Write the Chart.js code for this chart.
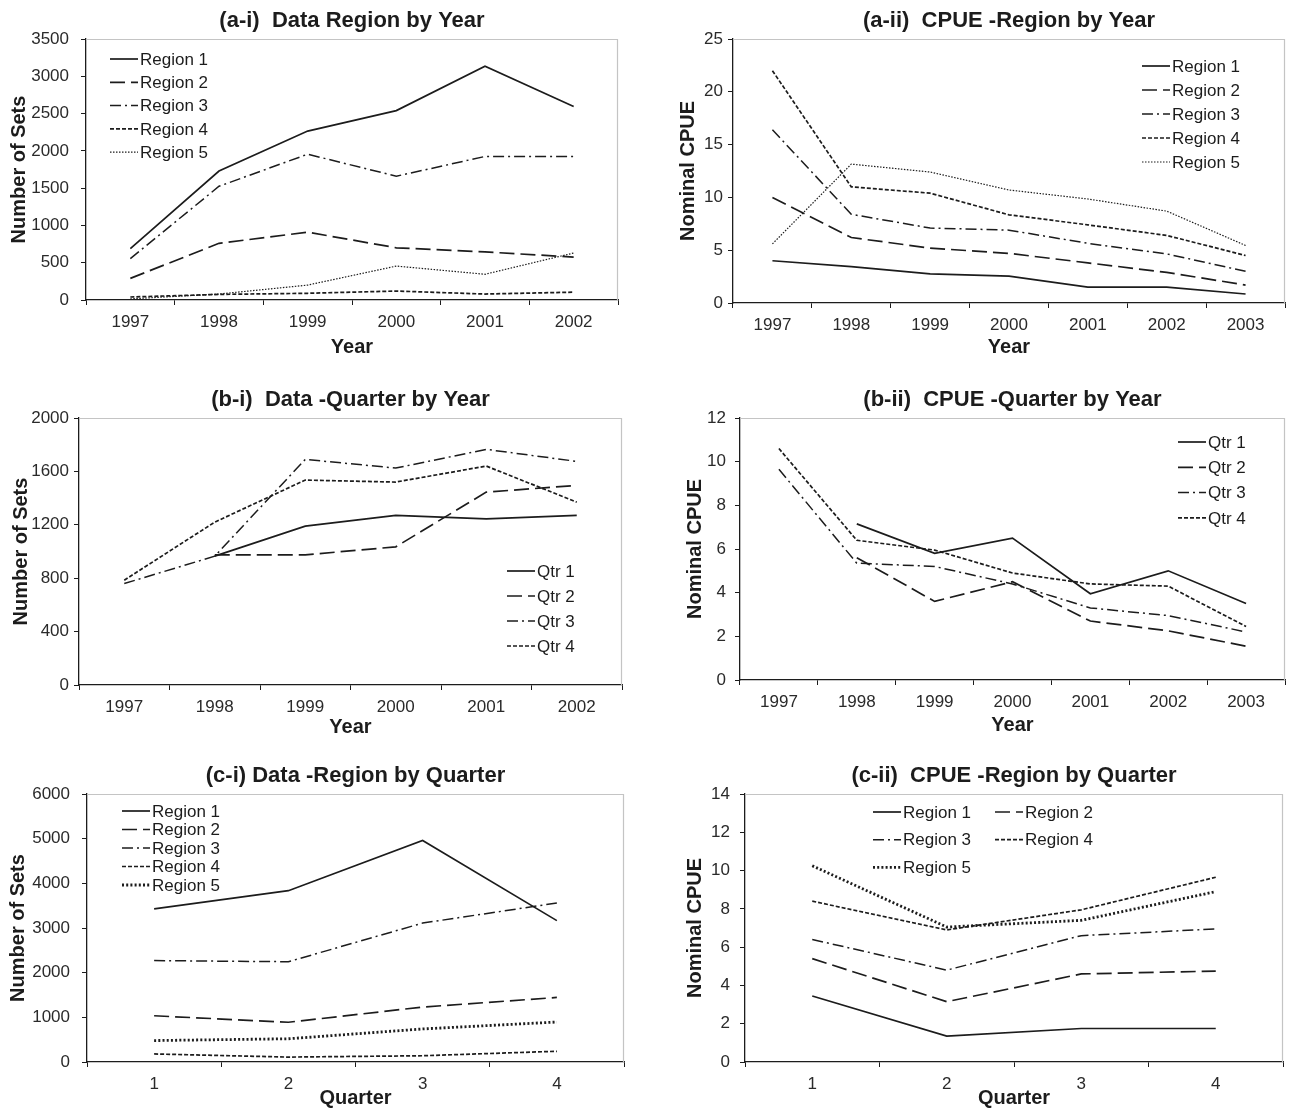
<!DOCTYPE html>
<html>
<head>
<meta charset="utf-8">
<script src="https://cdn.jsdelivr.net/npm/chart.js@4.4.0/dist/chart.umd.min.js"></script>
<style>
  body { margin: 0; background: #fff; width: 1289px; height: 1110px; position: relative; overflow: hidden; }
  canvas { position: absolute; }
</style>
</head>
<body>
<canvas id="ai" width="630" height="365" style="left:3px;top:0px"></canvas>
<canvas id="aii" width="617" height="365" style="left:672px;top:0px"></canvas>
<canvas id="bi" width="630" height="365" style="left:5px;top:380px"></canvas>
<canvas id="bii" width="610" height="365" style="left:679px;top:380px"></canvas>
<canvas id="ci" width="630" height="360" style="left:2px;top:750px"></canvas>
<canvas id="cii" width="610" height="360" style="left:679px;top:750px"></canvas>
<script>
// categories
const yearsShort = ['1997', '1998', '1999', '2000', '2001', '2002'];
const yearsLong = ['1997', '1998', '1999', '2000', '2001', '2002', '2003'];
const quarters = ['1', '2', '3', '4'];
const regionNames = ['Region 1', 'Region 2', 'Region 3', 'Region 4', 'Region 5'];
const qtrNames = ['Qtr 1', 'Qtr 2', 'Qtr 3', 'Qtr 4'];

// (a-i) number of sets, region by year
const setsR1 = [690, 1730, 2265, 2540, 3135, 2595];
const setsR2 = [290, 760, 910, 700, 645, 575];
const setsR3 = [555, 1525, 1955, 1660, 1925, 1925];
const setsR4 = [40, 75, 90, 120, 80, 105];
const setsR5 = [15, 80, 200, 455, 345, 630];

// (a-ii) nominal CPUE, region by year
const cpueR1 = [4.0, 3.45, 2.75, 2.55, 1.5, 1.5, 0.85];
const cpueR2 = [10.0, 6.2, 5.2, 4.7, 3.8, 2.9, 1.7];
const cpueR3 = [16.4, 8.4, 7.1, 6.9, 5.65, 4.65, 3.0];
const cpueR4 = [22.0, 11.0, 10.4, 8.35, 7.4, 6.4, 4.5];
const cpueR5 = [5.6, 13.15, 12.4, 10.7, 9.85, 8.7, 5.45];

// (b-i) number of sets, quarter by year
const setsQ1 = [null, 965, 1190, 1270, 1245, 1270];
const setsQ2 = [null, 975, 975, 1035, 1445, 1495];
const setsQ3 = [760, 965, 1690, 1625, 1765, 1675];
const setsQ4 = [785, 1220, 1535, 1520, 1640, 1370];

// (b-ii) nominal CPUE, quarter by year
const cpueQ1 = [null, 7.15, 5.8, 6.5, 3.95, 5.0, 3.5];
const cpueQ2 = [null, 5.6, 3.6, 4.5, 2.7, 2.25, 1.55];
const cpueQ3 = [9.65, 5.35, 5.2, 4.4, 3.3, 2.95, 2.2];
const cpueQ4 = [10.6, 6.4, 5.95, 4.9, 4.4, 4.3, 2.45];

// (c-i) number of sets, region by quarter
const qSetsR1 = [3430, 3835, 4960, 3165];
const qSetsR2 = [1035, 890, 1230, 1445];
const qSetsR3 = [2270, 2245, 3110, 3560];
const qSetsR4 = [180, 110, 140, 240];
const qSetsR5 = [480, 520, 740, 895];

// (c-ii) nominal CPUE, region by quarter
const qCpueR1 = [3.45, 1.35, 1.75, 1.75];
const qCpueR2 = [5.4, 3.15, 4.6, 4.75];
const qCpueR3 = [6.4, 4.8, 6.6, 6.95];
const qCpueR4 = [8.4, 6.9, 7.95, 9.65];
const qCpueR5 = [10.25, 7.05, 7.4, 8.9];

const INK = '#1c1c1c';
const FONT = "'Liberation Sans', Arial, sans-serif";

// line styles, one per series position
const lineStyles = [
    { dash: [], width: 1.7 },
    { dash: [15, 6], width: 1.7 },
    { dash: [11, 4, 2, 4], width: 1.5 },
    { dash: [4, 2], width: 1.7 },
    { dash: [1.5, 1.5], width: 1.2 }
];
const boldDots = { dash: [2, 2.2], width: 2.8 };

const panelTitle = {
    id: 'panelTitle',
    afterDraw(chart, args, opts) {
        const { ctx, chartArea } = chart;
        ctx.save();
        ctx.font = 'bold 22px ' + FONT;
        ctx.fillStyle = INK;
        ctx.textAlign = 'center';
        ctx.textBaseline = 'middle';
        ctx.fillText(opts.text, (chartArea.left + chartArea.right) / 2, chartArea.top - opts.gap);
        ctx.restore();
    }
};

const plotFrame = {
    id: 'plotFrame',
    beforeDatasetsDraw(chart) {
        const { ctx, chartArea } = chart;
        ctx.save();
        ctx.strokeStyle = '#c4c4c4';
        ctx.lineWidth = 1.2;
        ctx.beginPath();
        ctx.moveTo(chartArea.left, chartArea.top + 0.5);
        ctx.lineTo(chartArea.right - 0.5, chartArea.top + 0.5);
        ctx.lineTo(chartArea.right - 0.5, chartArea.bottom);
        ctx.stroke();
        ctx.restore();
    }
};

const innerLegend = {
    id: 'innerLegend',
    afterDatasetsDraw(chart, args, opts) {
        const { ctx, chartArea } = chart;
        ctx.save();
        ctx.font = '17px ' + FONT;
        ctx.fillStyle = INK;
        ctx.textBaseline = 'middle';
        chart.data.datasets.forEach((ds, i) => {
            const col = i % opts.cols;
            const row = Math.floor(i / opts.cols);
            const x0 = chartArea.left + opts.x + col * opts.colW;
            const y = chartArea.top + opts.y + row * opts.rowH;
            ctx.strokeStyle = INK;
            ctx.lineWidth = ds.borderWidth;
            ctx.setLineDash(ds.borderDash);
            ctx.beginPath();
            ctx.moveTo(x0, y);
            ctx.lineTo(x0 + 28, y);
            ctx.stroke();
            ctx.setLineDash([]);
            ctx.fillText(ds.label, x0 + 30, y + 1);
        });
        ctx.restore();
    }
};

function makePanel(id, cfg) {
    const datasets = cfg.series.map((values, i) => {
        const st = (cfg.styles && cfg.styles[i]) || lineStyles[i];
        return {
            label: cfg.names[i],
            data: values,
            borderColor: INK,
            borderWidth: st.width,
            borderDash: st.dash,
            pointRadius: 0,
            tension: 0,
            fill: false
        };
    });

    new Chart(document.getElementById(id), {
        type: 'line',
        data: { labels: cfg.labels, datasets: datasets },
        options: {
            responsive: false,
            animation: false,
            layout: { padding: { top: cfg.padTop, right: cfg.padRight, left: 0, bottom: 0 } },
            plugins: {
                legend: { display: false },
                tooltip: { enabled: false },
                panelTitle: { text: cfg.title, gap: 18 },
                innerLegend: cfg.legend
            },
            scales: {
                x: {
                    offset: true,
                    grid: { offset: true, drawOnChartArea: false, drawTicks: true, tickLength: 5, color: INK, lineWidth: 1 },
                    border: { color: INK, width: 1.3 },
                    ticks: { color: '#2a2a2a', font: { family: FONT, size: 17 }, padding: 7, maxRotation: 0 },
                    title: { display: true, text: cfg.xTitle, color: INK, font: { family: FONT, size: 20, weight: 'bold' }, padding: { top: 0, bottom: cfg.xTitlePad } },
                    afterFit: (scale) => { scale.height = cfg.xH; }
                },
                y: {
                    min: 0,
                    max: cfg.yMax,
                    ticks: { stepSize: cfg.yStep, color: '#2a2a2a', font: { family: FONT, size: 17 }, padding: cfg.yPad, callback: (v) => String(v) },
                    grid: { drawOnChartArea: false, drawTicks: true, tickLength: 5, color: INK, lineWidth: 1 },
                    border: { color: INK, width: 1.3 },
                    title: { display: true, text: cfg.yTitle, color: INK, font: { family: FONT, size: 20, weight: 'bold' }, padding: { top: 4, bottom: 0 } },
                    afterFit: (scale) => { scale.width = cfg.yW; }
                }
            }
        },
        plugins: [plotFrame, panelTitle, innerLegend]
    });
}

makePanel('ai', {
    title: '(a-i)  Data Region by Year', labels: yearsShort,
    series: [setsR1, setsR2, setsR3, setsR4, setsR5], names: regionNames,
    yMax: 3500, yStep: 500, yTitle: 'Number of Sets', xTitle: 'Year',
    padTop: 39, padRight: 15, yW: 83, yPad: 12, xH: 65, xTitlePad: 6,
    legend: { x: 24, y: 20, rowH: 23.3, cols: 1, colW: 0 }
});

makePanel('aii', {
    title: '(a-ii)  CPUE -Region by Year', labels: yearsLong,
    series: [cpueR1, cpueR2, cpueR3, cpueR4, cpueR5], names: regionNames,
    yMax: 25, yStep: 5, yTitle: 'Nominal CPUE', xTitle: 'Year',
    padTop: 39, padRight: 4, yW: 61, yPad: 5, xH: 62, xTitlePad: 6,
    legend: { x: 409, y: 27, rowH: 24, cols: 1, colW: 0 }
});

makePanel('bi', {
    title: '(b-i)  Data -Quarter by Year', labels: yearsShort,
    series: [setsQ1, setsQ2, setsQ3, setsQ4], names: qtrNames,
    yMax: 2000, yStep: 400, yTitle: 'Number of Sets', xTitle: 'Year',
    padTop: 38, padRight: 13, yW: 74, yPad: 5, xH: 60, xTitlePad: 6,
    legend: { x: 428, y: 153, rowH: 25, cols: 1, colW: 0 }
});

makePanel('bii', {
    title: '(b-ii)  CPUE -Quarter by Year', labels: yearsLong,
    series: [cpueQ1, cpueQ2, cpueQ3, cpueQ4], names: qtrNames,
    yMax: 12, yStep: 2, yTitle: 'Nominal CPUE', xTitle: 'Year',
    padTop: 38, padRight: 4, yW: 61, yPad: 9, xH: 65, xTitlePad: 8,
    legend: { x: 438, y: 24, rowH: 25.3, cols: 1, colW: 0 }
});

makePanel('ci', {
    title: '(c-i) Data -Region by Quarter', labels: quarters,
    series: [qSetsR1, qSetsR2, qSetsR3, qSetsR4, qSetsR5], names: regionNames,
    styles: [lineStyles[0], lineStyles[1], lineStyles[2], lineStyles[3], boldDots],
    yMax: 6000, yStep: 1000, yTitle: 'Number of Sets', xTitle: 'Quarter',
    padTop: 44, padRight: 8, yW: 85, yPad: 12, xH: 48, xTitlePad: 0,
    legend: { x: 35, y: 17, rowH: 18.5, cols: 1, colW: 0 }
});

makePanel('cii', {
    title: '(c-ii)  CPUE -Region by Quarter', labels: quarters,
    series: [qCpueR1, qCpueR2, qCpueR3, qCpueR4, qCpueR5], names: regionNames,
    styles: [lineStyles[0], lineStyles[1], lineStyles[2], lineStyles[3], boldDots],
    yMax: 14, yStep: 2, yTitle: 'Nominal CPUE', xTitle: 'Quarter',
    padTop: 44, padRight: 6, yW: 66, yPad: 10, xH: 48, xTitlePad: 0,
    legend: { x: 128, y: 18, rowH: 27.7, cols: 2, colW: 122 }
});
</script>
</body>
</html>
